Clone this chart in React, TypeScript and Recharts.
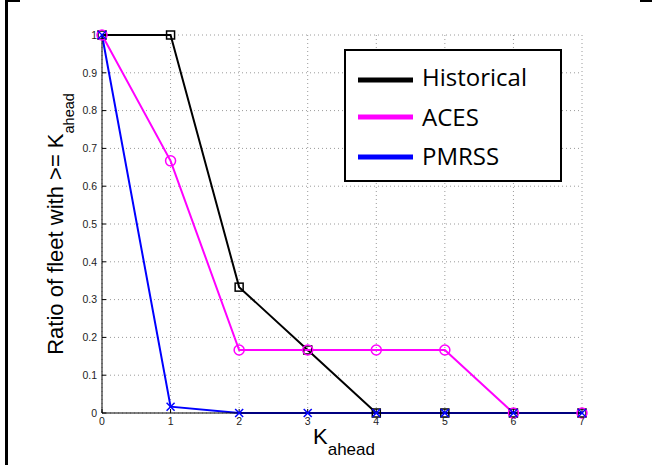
import React from 'react';
import { LineChart, Line, XAxis, YAxis, CartesianGrid, Legend } from 'recharts';

const kAhead = [0, 1, 2, 3, 4, 5, 6, 7];
const historical = [1, 1, 0.333, 0.1667, 0, 0, 0, 0];
const aces = [1, 0.667, 0.1667, 0.1667, 0.1667, 0.1667, 0, 0];
const pmrss = [1, 0.0167, 0, 0, 0, 0, 0, 0];
const yTicks = [0, 0.1, 0.2, 0.3, 0.4, 0.5, 0.6, 0.7, 0.8, 0.9, 1];
const seriesNames = ['Historical', 'ACES', 'PMRSS'];

const data = kAhead.map((k, i) => ({
  k,
  historical: historical[i],
  aces: aces[i],
  pmrss: pmrss[i],
}));

const tickFont = { fontFamily: 'Liberation Sans, Arial, sans-serif', fontSize: 10.5, fill: '#222' };

const SquareDot = (props: any) => {
  const { cx, cy, index } = props;
  return <rect key={index} x={cx - 4} y={cy - 4} width={8} height={8} fill="none" stroke="#000" strokeWidth={1.5} />;
};

const CircleDot = (props: any) => {
  const { cx, cy, index } = props;
  return <circle key={index} cx={cx} cy={cy} r={5} fill="none" stroke="#ff00ff" strokeWidth={1.5} />;
};

const CrossDot = (props: any) => {
  const { cx, cy, index } = props;
  const s = 4;
  return (
    <g key={index} stroke="#0000ff" strokeWidth={1.5}>
      <line x1={cx - s} y1={cy - s} x2={cx + s} y2={cy + s} />
      <line x1={cx - s} y1={cy + s} x2={cx + s} y2={cy - s} />
    </g>
  );
};

const renderLegend = (props: any) => {
  const items = [...(props.payload || [])].sort(
    (a: any, b: any) => seriesNames.indexOf(a.value) - seriesNames.indexOf(b.value)
  );
  const rowLine = [31, 68, 108];
  const rowText = [37, 77, 116];
  return (
    <svg width={218} height={133} style={{ display: 'block' }}>
      <rect x={1} y={1} width={216} height={131} fill="#fff" stroke="#000" strokeWidth={2} />
      {items.map((entry: any, i: number) => (
        <g key={entry.value}>
          <line x1={14} x2={69} y1={rowLine[i]} y2={rowLine[i]} stroke={entry.color} strokeWidth={5} />
          <text x={78} y={rowText[i]} fontFamily="Open Sans, sans-serif" fontSize={24} fill="#000">
            {entry.value}
          </text>
        </g>
      ))}
    </svg>
  );
};

export default function App() {
  return (
    <div style={{ position: 'absolute', left: 0, top: 0, width: 652, height: 465, background: '#fff' }}>
      <div style={{ position: 'absolute', left: 5, top: 0, width: 2.5, height: 465, background: '#000' }} />
      <div style={{ position: 'absolute', left: 5, top: 0, width: 15, height: 2, background: '#000' }} />
      <div style={{ position: 'absolute', left: 640, top: 0, width: 12, height: 2, background: '#000' }} />
      <LineChart
        width={652}
        height={465}
        data={data}
        margin={{ top: 35, right: 70, bottom: 32, left: 62 }}
      >
        <CartesianGrid stroke="#9a9a9a" strokeDasharray="1 3" />
        <XAxis
          dataKey="k"
          type="number"
          domain={[0, 7]}
          ticks={kAhead}
          height={20}
          axisLine={{ stroke: '#000', strokeWidth: 1 }}
          tickLine={{ stroke: '#000' }}
          tickSize={-4}
          tickMargin={9}
          tick={tickFont}
        />
        <YAxis
          type="number"
          domain={[0, 1]}
          ticks={yTicks}
          width={40}
          axisLine={{ stroke: '#000', strokeWidth: 1 }}
          tickLine={{ stroke: '#000' }}
          tickSize={-4}
          tickMargin={9}
          tick={tickFont}
          tickFormatter={(v: number) => String(Math.round(v * 10) / 10)}
        />
        <Line
          dataKey="historical"
          name="Historical"
          stroke="#000000"
          strokeWidth={2}
          dot={SquareDot}
          isAnimationActive={false}
        />
        <Line
          dataKey="aces"
          name="ACES"
          stroke="#ff00ff"
          strokeWidth={2}
          dot={CircleDot}
          isAnimationActive={false}
        />
        <Line
          dataKey="pmrss"
          name="PMRSS"
          stroke="#0000ff"
          strokeWidth={2}
          dot={CrossDot}
          isAnimationActive={false}
        />
        <Legend
          layout="vertical"
          align="center"
          verticalAlign="middle"
          content={renderLegend}
          wrapperStyle={{ left: 344, top: 49, width: 218, height: 133 }}
        />
      </LineChart>
      <svg width={652} height={465} style={{ position: 'absolute', left: 0, top: 0, pointerEvents: 'none' }}>
        <text x={344} y={444} textAnchor="middle" fontFamily="Liberation Sans, Arial, sans-serif" fontSize={22} fill="#000">
          K<tspan fontSize={17} dy={11}>ahead</tspan>
        </text>
        <text
          x={63}
          y={224}
          textAnchor="middle"
          transform="rotate(-90 63 224)"
          fontFamily="Liberation Sans, Arial, sans-serif"
          fontSize={22}
          fill="#000"
        >
          Ratio of fleet with &gt;= K<tspan fontSize={14.5} dy={11}>ahead</tspan>
        </text>
      </svg>
    </div>
  );
}
